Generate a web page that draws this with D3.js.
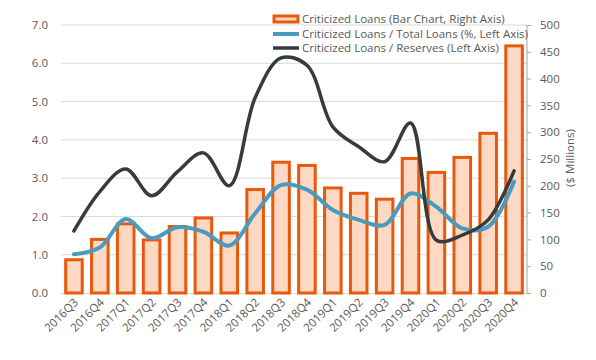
<!DOCTYPE html>
<html><head><meta charset="utf-8">
<script src="https://cdn.jsdelivr.net/npm/d3@7"></script>
<style>body{margin:0;background:#fff}svg{display:block}text{font-family:"Open Sans",sans-serif}</style>
</head><body><svg id="c" width="596" height="360"></svg>
<script>
const categories = ["2016Q3","2016Q4","2017Q1","2017Q2","2017Q3","2017Q4","2018Q1","2018Q2","2018Q3","2018Q4","2019Q1","2019Q2","2019Q3","2019Q4","2020Q1","2020Q2","2020Q3","2020Q4"];
const criticizedLoans = [62,100,129,99,124,140,112,193,244,238,196,186,175,251,225,253,298,461];
const pctTotalLoans = [1.01,1.19,1.93,1.43,1.72,1.60,1.24,2.08,2.82,2.70,2.17,1.91,1.78,2.60,2.25,1.69,1.73,2.91];
const pctReserves = [1.62,2.65,3.24,2.54,3.17,3.66,2.80,5.10,6.14,5.95,4.34,3.82,3.43,4.44,1.38,1.51,1.91,3.19];
const leftTicks = [0,1,2,3,4,5,6,7];
const rightTicks = [0,50,100,150,200,250,300,350,400,450,500];
const legendLabels = ["Criticized Loans (Bar Chart, Right Axis)","Criticized Loans / Total Loans (%, Left Axis)","Criticized Loans / Reserves (Left Axis)"];

const svg = d3.select("#c");
const L = 61, R = 527, T = 25, B = 293;
const x = d3.scaleBand().domain(categories).range([L, R]).paddingInner(0.36).paddingOuter(0.18);
const yL = d3.scaleLinear().domain([0,7]).range([B, T]);
const yR = d3.scaleLinear().domain([0,500]).range([B, T]);
const txt = "#595959";

// gridlines
svg.append("g").selectAll("line").data(leftTicks.slice(1)).join("line")
  .attr("x1", L).attr("x2", R).attr("y1", d => yL(d)).attr("y2", d => yL(d))
  .attr("stroke", "#d9d9d9").attr("stroke-width", 1);

// left axis
const gl = svg.append("g").attr("transform", `translate(${L},0)`)
  .call(d3.axisLeft(yL).tickValues(leftTicks).tickFormat(d3.format(".1f")).tickSize(0).tickPadding(13));
gl.select(".domain").remove();
gl.selectAll("text").attr("fill", txt).attr("font-size", 11.5);

// bottom axis line
svg.append("line").attr("x1", L).attr("x2", R).attr("y1", B+0.5).attr("y2", B+0.5).attr("stroke", "#d9d9d9");

// right axis
const gr = svg.append("g").attr("transform", `translate(${R},0)`)
  .call(d3.axisRight(yR).tickValues(rightTicks).tickSize(4).tickPadding(9));
gr.select(".domain").attr("stroke", "#a6a6a6").attr("d", `M0,${T}V${B}`);
gr.selectAll("line").attr("stroke", "#a6a6a6");
gr.selectAll("text").attr("fill", txt).attr("font-size", 11.5);
svg.append("text").attr("transform", `translate(574,158) rotate(-90)`).attr("text-anchor", "middle")
  .attr("fill", txt).attr("font-size", 11.5).text("($ Millions)");

// x labels
svg.append("g").selectAll("text").data(categories).join("text")
  .attr("transform", d => `translate(${x(d)+x.bandwidth()/2+5},${B+10}) rotate(-45)`)
  .attr("text-anchor", "end").attr("fill", txt).attr("font-size", 11.5).text(d => d);

// bars
svg.append("g").selectAll("rect").data(categories).join("rect")
  .attr("x", d => x(d)).attr("width", x.bandwidth())
  .attr("y", (d,i) => yR(criticizedLoans[i])).attr("height", (d,i) => B - yR(criticizedLoans[i]))
  .attr("fill", "#fdd9c4").attr("stroke", "#e8590c").attr("stroke-width", 3);

const cx = d => x(d) + x.bandwidth()/2;
const line = d3.line().curve(d3.curveCatmullRom.alpha(0.5));
svg.append("path").attr("d", line(categories.map((c,i) => [cx(c), yL(pctTotalLoans[i])])))
  .attr("fill", "none").attr("stroke", "#4a9bbd").attr("stroke-width", 4).attr("stroke-linecap", "round");
svg.append("path").attr("d", line(categories.map((c,i) => [cx(c), yL(pctReserves[i])])))
  .attr("fill", "none").attr("stroke", "#363c3c").attr("stroke-width", 3.5).attr("stroke-linecap", "round");

// legend
const lg = svg.append("g");
const ly = [19, 34, 48];
lg.append("rect").attr("x", 274).attr("y", ly[0]-3).attr("width", 24).attr("height", 6)
  .attr("fill", "#fdd9c4").attr("stroke", "#e8590c").attr("stroke-width", 3);
lg.append("line").attr("x1", 273).attr("x2", 299).attr("y1", ly[1]).attr("y2", ly[1]).attr("stroke", "#4a9bbd").attr("stroke-width", 4);
lg.append("line").attr("x1", 273).attr("x2", 299).attr("y1", ly[2]).attr("y2", ly[2]).attr("stroke", "#363c3c").attr("stroke-width", 3.5);
lg.selectAll("text").data(legendLabels).join("text")
  .attr("x", 302).attr("y", (d,i) => ly[i]).attr("dy", "0.35em")
  .attr("fill", txt).attr("font-size", 11.5).text(d => d);
</script></body></html>
